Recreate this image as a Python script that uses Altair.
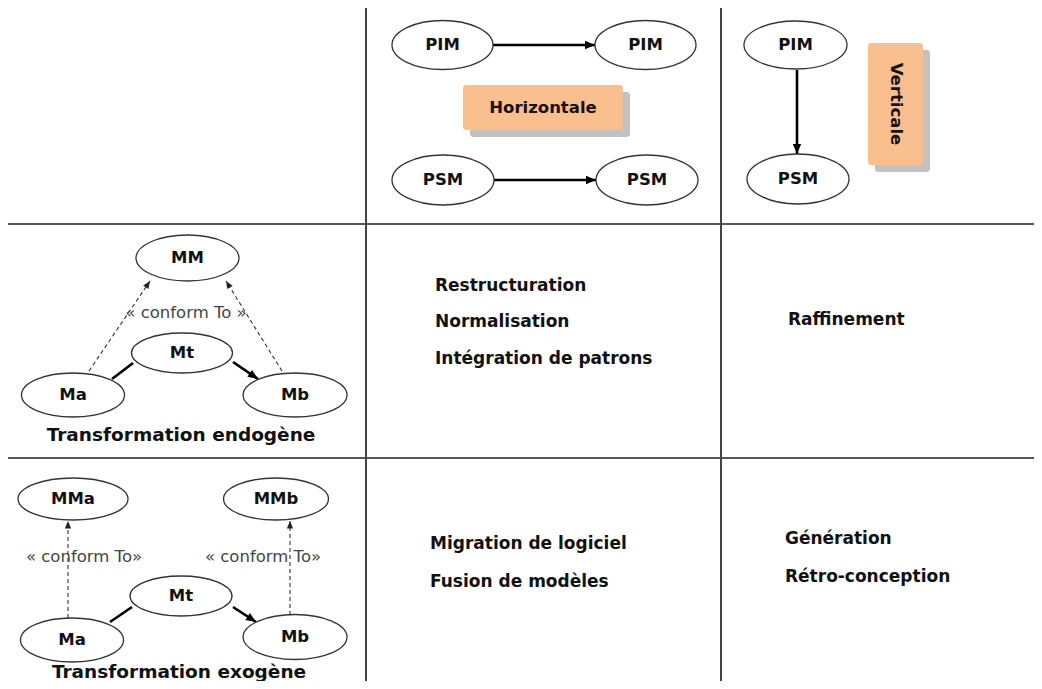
import math
import altair as alt
import pandas as pd

# ---------------- data (reference pixel coordinates) ----------------
h_line_y = [224, 458]
v_line_x = [366, 721]

node_labels = ["PIM", "PIM", "PSM", "PSM", "PIM", "PSM",
               "MM", "Mt", "Ma", "Mb",
               "MMa", "MMb", "Mt", "Ma", "Mb"]
node_x = [442.5, 645.5, 443, 647, 795.5, 798,
          187.5, 182, 73, 295,
          73, 276, 181, 72, 295]
node_y = [45, 45, 180, 180, 45, 179,
          258, 353, 395, 395,
          499, 499, 596, 640, 637]
node_w = [101, 101, 102, 102, 103, 102,
          103, 101, 103, 104,
          110, 105, 102, 103, 104]
node_h = [49, 49, 50, 50, 48, 50,
          46, 40, 44, 44,
          42, 42, 40, 44, 45]

edge_x1 = [493, 494, 797, 112, 233, 110, 233, 89, 282, 68, 290]
edge_y1 = [45, 180, 70, 379, 362, 622, 607, 371, 371, 618, 615]
edge_x2 = [595, 596, 797, 133, 258, 132, 256, 150, 226, 68, 290]
edge_y2 = [45, 180, 154, 363, 379, 607, 622, 281, 281, 521, 521]
edge_dashed = [False, False, False, False, False, False, False, True, True, True, True]
edge_head = [True, True, True, False, True, False, True, True, True, True, True]

cell_texts = ["Restructuration", "Normalisation", "Intégration de patrons", "Raffinement",
              "Migration de logiciel", "Fusion de modèles", "Génération", "Rétro-conception"]
cell_x = [435, 435, 435, 788, 430, 430, 785, 785]
cell_y = [286, 322, 359, 320, 544, 582, 539, 577]

caption_texts = ["Transformation endogène", "Transformation exogène"]
caption_x = [181, 179]
caption_y = [435, 672]

conform_texts = ["« conform To »", "« conform To»", "« conform To»"]
conform_x = [186, 84, 263]
conform_y = [313, 557, 557]

box_labels = ["Horizontale", "Verticale"]
box_x1 = [463, 868]
box_x2 = [623, 923]
box_y1 = [85, 43]
box_y2 = [130, 165]
box_angle = [0, 90]

# ---------------- tables ----------------
FONT = "DejaVu Sans"
XS = alt.Scale(domain=[8, 1034], nice=False, zero=False)
YS = alt.Scale(domain=[8, 681], nice=False, zero=False, reverse=True)


def X(f):
    return alt.X(f, type="quantitative", scale=XS, axis=None)


def Y(f):
    return alt.Y(f, type="quantitative", scale=YS, axis=None)


grid = pd.DataFrame(
    [{"x": 0, "x2": 1042, "y": y, "y2": y, "kind": "h"} for y in h_line_y]
    + [{"x": x, "x2": x, "y": 8, "y2": 685, "kind": "v"} for x in v_line_x]
)

K = 0.5523


def ellipse_path(w, h):
    b = h / w
    return (f"M-1,0 C-1,{-K*b:.4f} {-K:.4f},{-b:.4f} 0,{-b:.4f} "
            f"C{K:.4f},{-b:.4f} 1,{-K*b:.4f} 1,0 "
            f"C1,{K*b:.4f} {K:.4f},{b:.4f} 0,{b:.4f} "
            f"C{-K:.4f},{b:.4f} -1,{K*b:.4f} -1,0 Z")


nodes = pd.DataFrame({"label": node_labels, "x": node_x, "y": node_y,
                      "w": node_w, "h": node_h})
nodes["path"] = [ellipse_path(w, h) for w, h in zip(node_w, node_h)]
nodes["sz"] = [w * w for w in node_w]

edges = pd.DataFrame({"x": edge_x1, "y": edge_y1, "x2": edge_x2, "y2": edge_y2,
                      "dashed": edge_dashed, "head": edge_head})
edges["ang"] = [(math.degrees(math.atan2(x2 - x1, -(y2 - y1))) + 360) % 360
                for x1, y1, x2, y2 in zip(edge_x1, edge_y1, edge_x2, edge_y2)]
solid = edges[~edges["dashed"]]
dashed = edges[edges["dashed"]]
heads_solid = solid[solid["head"]]
heads_dashed = dashed[dashed["head"]]

cells = pd.DataFrame({"t": cell_texts, "x": cell_x, "y": cell_y})
caps = pd.DataFrame({"t": caption_texts, "x": caption_x, "y": caption_y})
conf = pd.DataFrame({"t": conform_texts, "x": conform_x, "y": conform_y})
boxes = pd.DataFrame({"t": box_labels, "x": box_x1, "x2": box_x2, "y": box_y1,
                      "y2": box_y2, "ang": box_angle})
boxes["cx"] = (boxes["x"] + boxes["x2"]) / 2
boxes["cy"] = (boxes["y"] + boxes["y2"]) / 2
boxes["sx"] = boxes["x"] + 7
boxes["sx2"] = boxes["x2"] + 7
boxes["sy"] = boxes["y"] + 7
boxes["sy2"] = boxes["y2"] + 7

# ---------------- layers ----------------
hgrid = alt.Chart(grid[grid["kind"] == "h"]).mark_rule(
    color="#1e1e1e", strokeWidth=1.6).encode(x=X("x"), x2="x2", y=Y("y"), y2="y2")
vgrid = alt.Chart(grid[grid["kind"] == "v"]).mark_rule(
    color="#444444", strokeWidth=2).encode(x=X("x"), x2="x2", y=Y("y"), y2="y2")

shadow = alt.Chart(boxes).mark_rect(color="#c2c2c2", cornerRadius=3).encode(
    x=X("sx"), x2="sx2", y=Y("sy"), y2="sy2")
box = alt.Chart(boxes).mark_rect(color="#f9bf8f", cornerRadius=3).encode(
    x=X("x"), x2="x2", y=Y("y"), y2="y2")
box_text_h = alt.Chart(boxes[boxes["ang"] == 0]).mark_text(
    font=FONT, fontSize=16.5, fontWeight="bold", color="#1a1010",
    align="center", baseline="middle").encode(x=X("cx"), y=Y("cy"), text="t:N")
box_text_v = alt.Chart(boxes[boxes["ang"] == 90]).mark_text(
    font=FONT, fontSize=16.5, fontWeight="bold", color="#1a1010", angle=90,
    align="center", baseline="middle").encode(x=X("cx"), y=Y("cy"), text="t:N")

solid_lines = alt.Chart(solid).mark_rule(color="#000000", strokeWidth=2.6).encode(
    x=X("x"), x2="x2", y=Y("y"), y2="y2")
dashed_lines = alt.Chart(dashed).mark_rule(
    color="#333333", strokeWidth=1.1, strokeDash=[4, 3]).encode(
    x=X("x"), x2="x2", y=Y("y"), y2="y2")

ARROW = "M0,0 L-0.42,1 L0.42,1 Z"
head_s = alt.Chart(heads_solid).mark_point(
    shape=ARROW, filled=True, color="#000000", opacity=1, size=400).encode(
    x=X("x2"), y=Y("y2"), angle=alt.Angle("ang:Q", scale=None))
head_d = alt.Chart(heads_dashed).mark_point(
    shape=ARROW, filled=True, color="#222222", opacity=1, size=225).encode(
    x=X("x2"), y=Y("y2"), angle=alt.Angle("ang:Q", scale=None))

ell = alt.Chart(nodes).mark_point(
    filled=True, fill="white", stroke="#333333", strokeWidth=1.3, opacity=1).encode(
    x=X("x"), y=Y("y"),
    shape=alt.Shape("path:N", scale=None),
    size=alt.Size("sz:Q", scale=None))
ell_text = alt.Chart(nodes).mark_text(
    font=FONT, fontSize=16.5, fontWeight="bold", color="#111111",
    align="center", baseline="middle").encode(x=X("x"), y=Y("y"), text="label:N")

cell_t = alt.Chart(cells).mark_text(
    font=FONT, fontSize=17, fontWeight="bold", color="#111111",
    align="left", baseline="middle").encode(x=X("x"), y=Y("y"), text="t:N")
cap_t = alt.Chart(caps).mark_text(
    font=FONT, fontSize=18.5, fontWeight="bold", color="#111111",
    align="center", baseline="middle").encode(x=X("x"), y=Y("y"), text="t:N")
conf_t = alt.Chart(conf).mark_text(
    font=FONT, fontSize=16.5, color="#444444",
    align="center", baseline="middle").encode(x=X("x"), y=Y("y"), text="t:N")

chart = alt.layer(
    hgrid, vgrid, shadow, box, box_text_h, box_text_v,
    dashed_lines, solid_lines, ell, ell_text, head_s, head_d,
    cell_t, cap_t, conf_t
).properties(
    width=1026, height=673, padding=0,
    autosize=alt.AutoSizeParams(type="none"),
    background="white",
).configure_view(stroke=None)

chart.save("out.html", embed_options={"renderer": "svg", "actions": False})
